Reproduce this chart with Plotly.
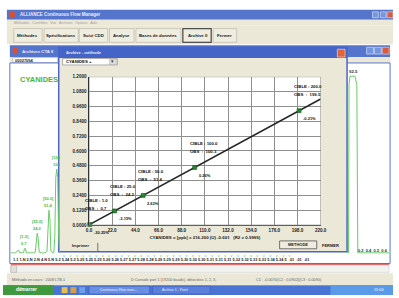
import plotly.graph_objects as go

# ---------------- chart data ----------------
analyte = "CYANIDES"
cible = [1.0, 25.0, 50.0, 100.0, 200.0]          # target concentrations (ppb)
obs = [0.7, 24.3, 51.4, 100.3, 199.5]            # observed concentrations (ppb)
ratio = [0.0060, 0.1152, 0.2405, 0.4667, 0.9255]  # instrument response
ecart = ["-30.25%", "-3.15%", "2.63%", "0.26%", "-0.21%"]
fit_x = [0.0, 220.0]
fit_y = [0.0028, 1.0203]
x_tick_vals = [0, 22, 44, 66, 88, 110, 132, 154, 176, 198, 220]
x_tick_text = ["0.0", "22.0", "44.0", "66.0", "88.0", "110.0", "132.0", "154.0", "176.0", "198.0", "220.0"]
y_tick_vals = [0.0, 0.12, 0.24, 0.36, 0.48, 0.60, 0.72, 0.84, 0.96, 1.08, 1.20]
y_tick_text = ["0.0000", "0.1200", "0.2400", "0.3600", "0.4800", "0.6000",
               "0.7200", "0.8400", "0.9600", "1.0800", "1.2000"]
equation = "CYANIDES = [ppb] = 216.200 (U) -0.601   (R2 = 0.9999)"

# background chromatogram (only the parts not hidden by the dialog)
chrom_t = [0.0, 0.5, 0.7, 0.8, 0.9, 1.1, 1.3, 1.4, 1.5, 1.6, 1.7,
           2.3, 2.5, 2.6, 2.7, 2.8, 2.9, 3.1, 3.5, 3.7, 3.8, 3.9, 4.0, 4.1, 4.3,
           4.4, 4.5, 4.6, 4.7, 4.8, 4.9, 5.0, None,
           34.4, 34.55, 34.6, 34.7, 35.2, 35.4, 35.5, 38.7]
chrom_s = [1, 1, 4, 4, 1, 1, 1, 6, 6, 1, 1,
           1, 2, 18, 24.2, 18, 2, 1, 1, 3, 40, 51.4, 40, 3, 1,
           1, 20, 90, 100, 90, 20, 1, None,
           1, 1, 200, 210, 210, 200, 1, 1]
peak_t = [1.4, 2.7, 3.9, 4.7]
peak_s = [6, 24.2, 51.4, 100]
peak_std = ["[1.0]", "[25.0]", "[50.0]", "[100"]
peak_val = ["0.7", "24.2", "51.4", "100"]

# ---------------- helpers (pixel -> paper) ----------------
W, H = 399, 298
FONT = "Liberation Sans"


def X(px):
    return px / W


def Y(py):
    return 1 - py / H


shapes = []
annotations = []


def rect(x0, y0, x1, y1, fill, line=None, lw=0):
    shapes.append(dict(type="rect", xref="paper", yref="paper",
                       x0=X(x0), x1=X(x1), y0=Y(y1), y1=Y(y0),
                       fillcolor=fill, layer="below",
                       line=dict(color=line if line else fill, width=lw)))


def hline(x0, x1, y, color, lw=1):
    shapes.append(dict(type="line", xref="paper", yref="paper",
                       x0=X(x0), x1=X(x1), y0=Y(y), y1=Y(y),
                       line=dict(color=color, width=lw), layer="below"))


def vline(x, y0, y1, color, lw=1):
    shapes.append(dict(type="line", xref="paper", yref="paper",
                       x0=X(x), x1=X(x), y0=Y(y0), y1=Y(y1),
                       line=dict(color=color, width=lw), layer="below"))


def text(px, py, s, size=4.5, color="#222", anchor="left", bold=True, italic=False):
    if bold:
        s = "<b>" + s + "</b>"
    if italic:
        s = "<i>" + s + "</i>"
    annotations.append(dict(xref="paper", yref="paper", x=X(px), y=Y(py), text=s,
                            showarrow=False, xanchor=anchor, yanchor="middle",
                            borderpad=0,
                            font=dict(size=size, color=color, family=FONT)))


# ---------------- window chrome ----------------
BEIGE = "#ebe8d8"
BLUE = "#5574cc"
rect(0, 0, 399, 8, "#ffffff")
rect(4, 8, 399, 18, BLUE)
text(16, 13, "ALLIANCE Continuous Flow Manager", 4.5, "#e8eeff")
rect(7, 10, 12, 16, "#d85030")
rect(378, 10, 384, 16, "#7595e2", "#ffffff", 0.5)
rect(386, 10, 392, 16, "#7595e2", "#ffffff", 0.5)
rect(393, 10, 399, 16, "#d85a40", "#ffffff", 0.5)
rect(4, 18, 399, 24, BEIGE)
text(10, 21, "Méthodes   Contrôles   Vue   Archives   Options   Aide", 3.5, "#a0a0a0", bold=False)
rect(4, 24, 399, 43, BEIGE)
buttons = [(11, 40, "Méthodes"), (42, 77, "Spécifications"), (78, 107, "Suivi CDD"),
           (109, 134, "Analyse"), (136, 182, "Bases de données"),
           (184, 213, "Archive II"), (215, 239, "Fermer")]
for bx0, bx1, lab in buttons:
    rect(bx0, 27, bx1, 41, "#efece0", "#b8b4a4", 0.6)
    text((bx0 + bx1) / 2, 34, lab, 4.3, "#1a1a1a", anchor="center")
rect(184, 27, 213, 41, "rgba(0,0,0,0)", "#505050", 1.2)

# inner MDI window
rect(7, 44, 396, 56, BLUE)
rect(10, 46, 15, 53, "#d85030")
text(18, 50, "Archives CTA II", 4.3, "#e8eeff")
rect(372, 46, 379, 53, "#7595e2", "#ffffff", 0.5)
rect(380, 46, 387, 53, "#7595e2", "#ffffff", 0.5)
rect(388, 46, 395, 53, "#d85a40", "#ffffff", 0.5)
rect(7, 56, 396, 62, BEIGE)
rect(10, 56.5, 56, 61.5, "#ffffff", "#9a9a9a", 0.5)
text(11, 59, "00027094", 4.0, "#222")
rect(7, 62, 396, 266, "#ffffff", "#5a78d0", 1)
text(16, 79, analyte, 7.5, "#3dba3d")

# dialog
rect(57, 46, 352, 254, BEIGE, "#4a66c8", 1.5)
rect(57, 46, 352, 57, "#4564c8")
text(63, 51.5, "Archive - méthode", 4.0, "#e8eeff")
rect(342, 48, 350, 56, "#e0643a", "#ffffff", 0.5)
rect(61, 57.5, 117, 64, "#ffffff", "#808080", 0.6)
text(63, 61, "CYANIDES +", 4.3, "#111")
rect(109, 58.5, 116, 63.5, "#e4e2d6", "#909090", 0.4)
text(112.5, 61, "▾", 4.5, "#333", anchor="center", bold=False)
rect(88, 76, 325, 227, "#ffffff")
text(70, 248, "Imprimer", 4.0, "#222")
vline(97, 245, 254, "#555", 0.8)
rect(283, 243, 321, 251, "#efece0", "#505050", 0.8)
text(302, 247, "METHODE", 4.0, "#222", anchor="center")
text(335, 247.5, "FERMER", 4.0, "#222", anchor="center")

# right-hand panel texts
text(353, 71, "92.5", 4.3, "#333")
text(362, 253, "0.2  0.4  0.5  0.6", 4.0, "#333")

# baseline markers and time row
text(60, 257.5, "v    " * 36, 4.0, "#5cc85c", bold=False)
row = ("1.1 1.N 2.N 2.N 4.N 5.N 5.2 5.24 5.2 5.25 5.25 5.25 5.26 5.26 5.27 5.27 5.28 5.28 "
       "5.29 5.29 5.29 5.30 5.30 5.30 5.31 5.31 5.31 5.32 5.32 5.33 5.33 5.34 5.34 5  .01  .01  .01")
text(9, 262, row, 3.9, "#222")
hline(8, 395, 266.5, "#d84040", 1.5)
rect(8, 268, 395, 275, "#f2f2f0", "#c8c8c8", 0.5)
rect(8, 268, 14, 275, "#e4e2d6", "#a0a0a0", 0.5)
rect(4, 276, 399, 288, BEIGE)
text(8, 282.5, "Méthode en cours : 2008 LTB-1", 3.8, "#666", bold=False)
text(130, 282.5, "D Console port 1 (19200 bauds), détectées 1, 2, 3,", 3.8, "#666", bold=False)
text(258, 282.5, "C1 : -0.0070(C2 : 0.0902)(C3 : 0.0090)", 3.8, "#666", bold=False)

# taskbar
rect(0, 288, 399, 298, "#4a74d4")
rect(0, 288, 52, 298, "#3f9a3f")
text(12, 292.5, "démarrer", 4.8, "#ffffff", italic=True)
rect(60, 290, 66, 296, "#e8c050")
rect(69, 290, 75, 296, "#d8a040")
rect(78, 290, 84, 296, "#6fa0e8")
rect(88, 289, 150, 297, "#6a8fe2", "#3a5cb8", 0.6)
text(98, 292.5, "Continuous Flow man...", 3.5, "#eef", bold=False)
rect(153, 289, 212, 297, "#5a80dc", "#3a5cb8", 0.6)
text(162, 292.5, "Archive 1 - Paint", 3.5, "#eef", bold=False)
rect(335, 288, 399, 298, "#5a9ae8")
text(385, 292.5, "15:00", 3.8, "#ffffff", anchor="center", bold=False)

# ---------------- calibration annotations (anchored to data) ----------------
for c, o, r, e in zip(cible, obs, ratio, ecart):
    annotations.append(dict(xref="x", yref="y", x=o, y=r, showarrow=False,
                            text="<b>CIBLE : %.1f</b>" % c, xanchor="left", yanchor="middle",
                            xshift=-6, yshift=24, borderpad=0,
                            font=dict(size=4.3, color="#111", family=FONT)))
    annotations.append(dict(xref="x", yref="y", x=o, y=r, showarrow=False,
                            text="<b>OBS  :  %.1f</b>" % o, xanchor="left", yanchor="middle",
                            xshift=-6, yshift=16, borderpad=0,
                            font=dict(size=4.3, color="#111", family=FONT)))
    annotations.append(dict(xref="x", yref="y", x=o, y=r, showarrow=False,
                            text="<b>%s</b>" % e, xanchor="left", yanchor="middle",
                            xshift=3, yshift=-8, borderpad=0,
                            font=dict(size=4.0, color="#111", family=FONT)))

for t, s, std, val in zip(peak_t, peak_s, peak_std, peak_val):
    annotations.append(dict(xref="x2", yref="y2", x=t, y=s, showarrow=False,
                            text="<b>%s</b>" % std, xanchor="center", yanchor="middle",
                            yshift=12, borderpad=0,
                            font=dict(size=4.0, color="#3dba3d", family=FONT)))
    annotations.append(dict(xref="x2", yref="y2", x=t, y=s, showarrow=False,
                            text="<b>%s</b>" % val, xanchor="center", yanchor="middle",
                            yshift=5, borderpad=0,
                            font=dict(size=4.0, color="#3dba3d", family=FONT)))

# ---------------- traces ----------------
fig = go.Figure()
fig.add_trace(go.Scatter(x=fit_x, y=fit_y, mode="lines",
                         line=dict(color="#262626", width=1.6),
                         hoverinfo="skip", cliponaxis=True))
fig.add_trace(go.Scatter(x=obs, y=ratio, mode="markers",
                         marker=dict(symbol="square", size=4, color="#1f8a2a",
                                     line=dict(color="#0d4d12", width=0.5)),
                         cliponaxis=False))
fig.add_trace(go.Scatter(x=chrom_t, y=chrom_s, mode="lines", xaxis="x2", yaxis="y2",
                         line=dict(color="#66cc66", width=1), connectgaps=False,
                         hoverinfo="skip"))

fig.update_layout(
    width=W, height=H,
    margin=dict(l=0, r=0, t=0, b=0),
    paper_bgcolor="#ffffff",
    plot_bgcolor="rgba(0,0,0,0)",
    showlegend=False,
    font=dict(family=FONT),
    xaxis=dict(domain=[X(88), X(325)], range=[0, 220], tickvals=x_tick_vals,
               ticktext=x_tick_text, showgrid=True, gridcolor="#8f8f8f", gridwidth=1,
               zeroline=False, showline=True, linecolor="#555555", linewidth=1.2,
               ticks="", tickfont=dict(size=4.6, color="#222", family=FONT, weight="bold"),
               title=dict(text="<b>" + equation + "</b>", standoff=4,
                          font=dict(size=4.4, color="#222", family=FONT)),
               fixedrange=True, anchor="y"),
    yaxis=dict(domain=[Y(227), Y(76)], range=[0, 1.2], tickvals=y_tick_vals,
               ticktext=y_tick_text, showgrid=True, gridcolor="#8f8f8f", gridwidth=1,
               zeroline=False, showline=True, linecolor="#333333", linewidth=1.5,
               ticks="", tickfont=dict(size=4.6, color="#222", family=FONT, weight="bold"),
               fixedrange=True, anchor="x"),
    xaxis2=dict(domain=[X(8), X(395)], range=[0, 38.7], visible=False, anchor="y2",
                fixedrange=True),
    yaxis2=dict(domain=[Y(256), Y(60)], range=[0, 228], visible=False, anchor="x2",
                fixedrange=True),
    shapes=shapes,
    annotations=annotations,
)

# outer border of the plot area (top & right gridline edges)
fig.add_shape(type="rect", xref="x", yref="y", x0=0, x1=220, y0=0, y1=1.2,
              line=dict(color="#8f8f8f", width=1), layer="above")

fig.write_html("out.html",
               config={"displayModeBar": False, "staticPlot": True},
               post_script="document.body.style.margin='0';document.body.style.overflow='hidden';")
